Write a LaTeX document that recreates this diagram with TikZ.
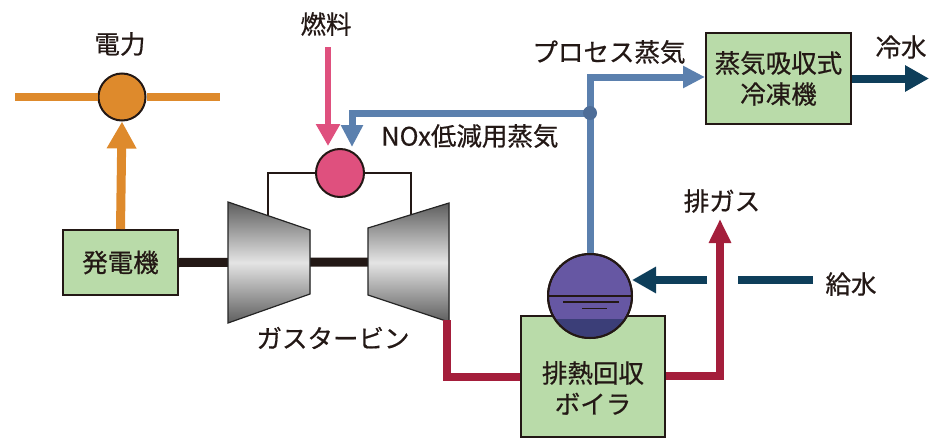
\documentclass[tikz,border=0pt]{standalone}
\usepackage{fontspec}
\setmainfont{Noto Sans CJK JP}[FakeBold=0.6]
\usetikzlibrary{arrows.meta}

\definecolor{txt}{HTML}{231815}
\definecolor{boxfill}{HTML}{B9DBA9}
\definecolor{elec}{HTML}{DE8A2C}
\definecolor{fuelc}{HTML}{DF507E}
\definecolor{steam}{HTML}{5B80AE}
\definecolor{steamdot}{HTML}{4E6D98}
\definecolor{water}{HTML}{0E3E5A}
\definecolor{gas}{HTML}{A41E3B}
\definecolor{drumc}{HTML}{6657A3}
\definecolor{drumlow}{HTML}{3B3E78}
\definecolor{metal}{HTML}{5E5E5E}
\definecolor{metallight}{HTML}{E4E4E4}

\tikzset{
  lbl/.style={text=txt, font=\fontsize{25.5}{31}\selectfont, inner sep=0pt, align=center},
  unit/.style={draw=txt, line width=2pt, fill=boxfill, text=txt,
    font=\fontsize{25.5}{31}\selectfont, align=center, inner sep=0pt},
  vessel/.style={circle, draw=txt, line width=2pt, inner sep=0pt},
  shaft/.style={draw=txt, line width=9pt},
  link/.style={draw=txt, line width=2pt},
  casing/.style={top color=metal, bottom color=metal, middle color=metallight},
  elecline/.style={draw=elec, line width=8pt},
  elecarrow/.style={elecline, line width=9pt, -{Triangle[length=27pt,width=28pt]}},
  fuelarrow/.style={draw=fuelc, line width=6pt, -{Triangle[length=22pt,width=23pt]}},
  steamarrow/.style={draw=steam, line width=7pt, -{Triangle[length=22pt,width=21pt]}},
  waterline/.style={draw=water, line width=8pt},
  waterarrow/.style={waterline, -{Triangle[length=24pt,width=25pt]}},
  gasline/.style={draw=gas, line width=8pt},
  gasarrow/.style={gasline, -{Triangle[length=24pt,width=21pt]}},
}

\begin{document}
\begin{tikzpicture}[x=1pt,y=-1pt]
\useasboundingbox (0,0) rectangle (930,439);

% ---- units ----
\node[unit, minimum width=115pt, minimum height=65pt] (gen) at (120.5,262.5) {発電機};
\node[unit, minimum width=145pt, minimum height=91pt] (chiller) at (778.5,78.5) {蒸気吸収式\\冷凍機};
\node[unit, minimum width=144pt, minimum height=121pt, text depth=0pt] (hrsg) at (593,376.5) {};
\node[lbl] (hrsgtxt) at (593,388) {排熱回収\\ボイラ};

% ---- electricity ----
\node[vessel, fill=elec, minimum size=47pt] (pow) at (122,97) {};
\coordinate (busL) at (15,97);
\coordinate (busR) at (220,97);
\draw[elecline] (busL) -- (pow.west);
\draw[elecline] (pow.east) -- (busR);
\draw[elecarrow] (gen.north) -- (pow.south);
\node[lbl] (powlbl) at (120,44) {電力};

% ---- gas turbine ----
\coordinate (c1) at (228,202);
\coordinate (c2) at (310,230);
\coordinate (c3) at (310,294);
\coordinate (c4) at (228,323);
\coordinate (t1) at (368,228);
\coordinate (t2) at (449,203);
\coordinate (t3) at (449,322);
\coordinate (t4) at (368,295);
\coordinate (turbmid) at (400,262);
\coordinate (ctap) at (268,215.7);
\coordinate (ttap) at (411,214.7);

\node[vessel, fill=fuelc, minimum size=48pt] (comb) at (340,173) {};
\draw[link] (ctap) |- (comb.west);
\draw[link] (comb.east) -| (ttap);
\draw[shaft] (gen.east) -- (turbmid);
\fill[casing] (c1) -- (c2) -- (c3) -- (c4) -- cycle;
\draw[metal!40!black, line width=1.2pt] (c1) -- (c2) -- (c3) -- (c4) -- cycle;
\fill[casing] (t1) -- (t2) -- (t3) -- (t4) -- cycle;
\draw[metal!40!black, line width=1.2pt] (t1) -- (t2) -- (t3) -- (t4) -- cycle;
\node[lbl] (gtlbl) at (333,338) {ガスタービン};

% ---- fuel ----
\coordinate (fuelsrc) at (328,47);
\coordinate (fuelin) at (328,146);
\draw[fuelarrow] (fuelsrc) -- (fuelin);
\node[lbl] (fuellbl) at (326,24) {燃料};

% ---- exhaust gas ----
\coordinate (gasout) at (447,320);
\coordinate (gasbend) at (447,377);
\coordinate (stack) at (720,219);
\draw[gasline] (gasout) -- (gasbend) -- (gasbend -| hrsg.west);
\draw[gasarrow] (hrsg.east |- 0,376) -| (stack);
\node[lbl] (gaslbl) at (722,201) {排ガス};

% ---- steam drum ----
\node[vessel, fill=drumc, minimum size=84pt] (drum) at (590,296) {};
\begin{scope}
  \clip (drum.center) circle (41pt);
  \fill[drumlow] (540,319) rectangle (640,345);
\end{scope}
\draw[txt, line width=2pt] (drum.center) circle (42pt);
\draw[txt, line width=1.6pt] (drum.west) -- (drum.east);
\draw[txt, line width=1.4pt] (563,302) -- (619,302);
\draw[txt, line width=1.4pt] (582,308.5) -- (607,308.5);

% ---- feed water ----
\coordinate (fwsrc) at (813,280);
\coordinate (fwgapR) at (738,280);
\coordinate (fwgapL) at (707,280);
\coordinate (fwin) at (632,280);
\draw[waterline] (fwsrc) -- (fwgapR);
\draw[waterarrow] (fwgapL) -- (fwin);
\node[lbl] (fwlbl) at (851,284) {給水};

% ---- steam ----
\coordinate (junc) at (590,113);
\coordinate (steamup) at (590,77);
\coordinate (noxin) at (352,147);
\draw[steamarrow] (drum.north) -- (steamup) -- (steamup -| chiller.west);
\draw[steamarrow] (junc) -| (noxin);
\fill[steamdot] (junc) circle (7pt);
\node[lbl] (proclbl) at (609,52) {プロセス蒸気};
\node[lbl, anchor=west] (noxlbl) at (381,136) {NOx低減用蒸気};

% ---- chilled water ----
\coordinate (cwout) at (929,78.5);
\draw[waterarrow] (chiller.east) -- (cwout);
\node[lbl] (cwlbl) at (901,47) {冷水};

\end{tikzpicture}
\end{document}
